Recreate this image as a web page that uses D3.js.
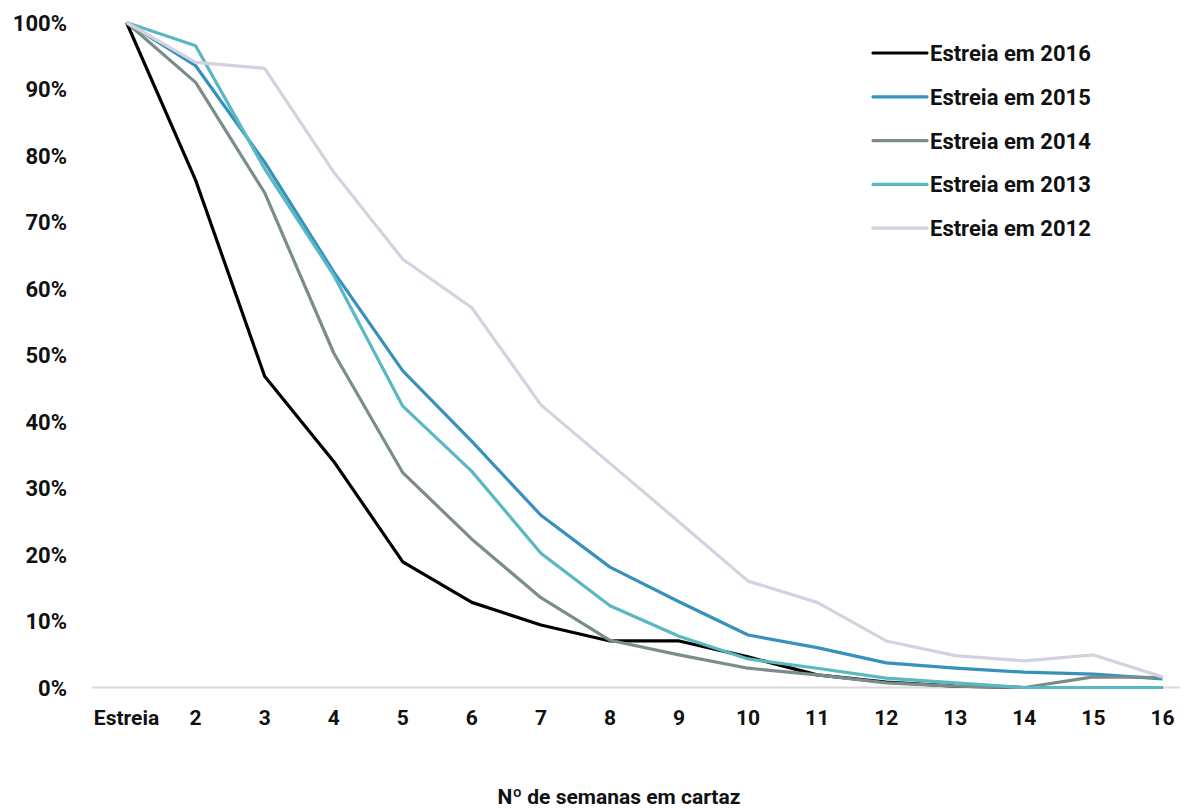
<!DOCTYPE html>
<html><head><meta charset="utf-8">
<script src="https://cdn.jsdelivr.net/npm/d3@7"></script>
<style>
body{margin:0;background:#fff;}
text{font-family:Roboto,"Liberation Sans",sans-serif;font-weight:bold;fill:#111;}
</style></head><body>
<svg id="c" width="1191" height="809"></svg>
<script>
const categories = ["Estreia","2","3","4","5","6","7","8","9","10","11","12","13","14","15","16"];
const seriesNames = ["Estreia em 2016","Estreia em 2015","Estreia em 2014","Estreia em 2013","Estreia em 2012"];
const s2016 = [100,76.3,46.8,34,18.9,12.8,9.4,7.0,7.0,4.6,1.9,0.8,0.2,0,0,0];
const s2015 = [100,93.5,79,62.5,47.6,37,25.9,18.1,12.9,7.9,6,3.7,2.9,2.3,2.0,1.3];
const s2014 = [100,91,74.4,50.3,32.3,22.3,13.5,7.1,4.9,2.9,1.9,0.7,0.2,0,1.6,1.5];
const s2013 = [100,96.5,78,62,42.3,32.5,20.2,12.3,7.7,4.3,2.9,1.4,0.7,0,0,0];
const s2012 = [100,94.0,93.1,77.5,64.4,57.1,42.5,33.7,24.9,16,12.8,7.0,4.8,4.0,4.9,1.6];
const yTicks = [0,10,20,30,40,50,60,70,80,90,100];
const colors = ["#000000","#3791bd","#7b8c8d","#59b8c2","#d4d2e0"];
const allSeries = [s2016,s2015,s2014,s2013,s2012];

const svg = d3.select("#c");
const x = d3.scaleBand().domain(categories).range([92,1197]);
const y = d3.scaleLinear().domain([0,100]).range([687.5,22.5]);

// baseline
svg.append("line").attr("x1",92).attr("x2",1180).attr("y1",y(0)).attr("y2",y(0))
  .attr("stroke","#d9d9d9").attr("stroke-width",2);

// y labels
const yAxis = d3.axisLeft(y).tickValues(yTicks).tickFormat(d=>d+"%").tickSize(0).tickPadding(0);
const ga = svg.append("g").attr("transform","translate(67,0)").call(yAxis);
ga.select(".domain").remove();
ga.selectAll("text").style("font-size","22px").attr("dy","0.35em").attr("fill","#111");

// x labels
const xAxis = d3.axisBottom(x).tickSize(0).tickPadding(0);
const gx = svg.append("g").attr("transform","translate(0,710)").call(xAxis);
gx.select(".domain").remove();
gx.selectAll("text").style("font-size","21px").attr("dy","0.7em").attr("fill","#111");

// lines
const line = d3.line().x((d,i)=>x(categories[i])+x.bandwidth()/2).y(d=>y(d));
allSeries.forEach((s,k)=>{
  svg.append("path").datum(s).attr("d",line).attr("fill","none")
    .attr("stroke",colors[k]).attr("stroke-width",3.2).attr("stroke-linejoin","round");
});

// legend
seriesNames.forEach((n,k)=>{
  const ly = 53 + k*43.8;
  svg.append("line").attr("x1",873).attr("x2",927).attr("y1",ly).attr("y2",ly)
    .attr("stroke",colors[k]).attr("stroke-width",3.2).attr("stroke-linecap","round");
  svg.append("text").attr("x",930).attr("y",ly).attr("dy","0.36em").style("font-size","22px").text(n);
});

// axis title
svg.append("text").attr("x",619).attr("y",796).attr("dy","0.36em").attr("text-anchor","middle")
  .style("font-size","21px").text("Nº de semanas em cartaz");
</script></body></html>
